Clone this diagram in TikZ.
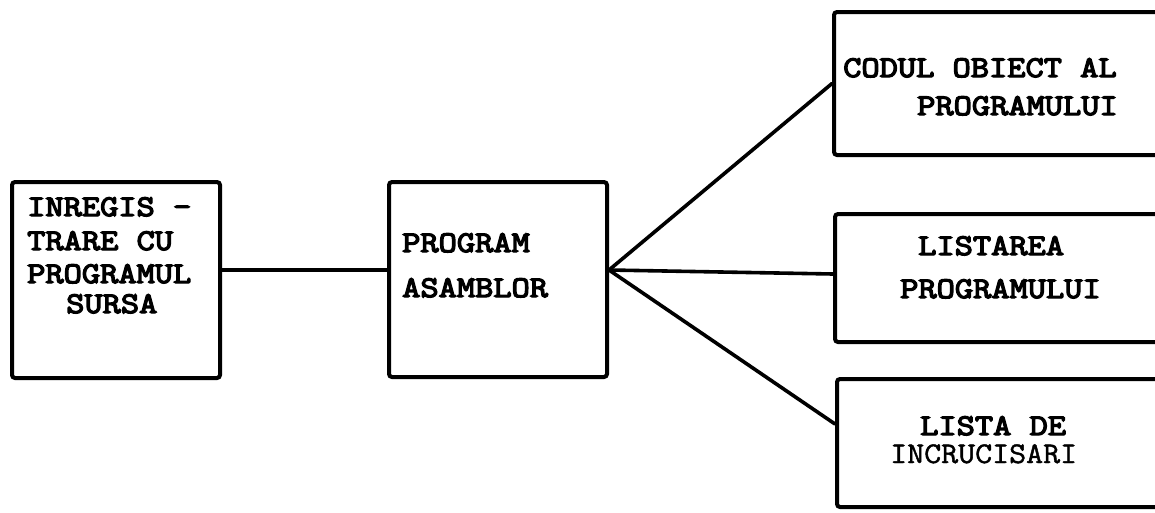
\documentclass[tikz,border=0pt]{standalone}
\usepackage{fontspec}
% heavy typewriter face and a plain one
\newfontfamily\typeheavy[FakeBold=4.5,FakeStretch=1.18]{Latin Modern Mono}
\newfontfamily\typeplain[FakeBold=1.5,FakeStretch=1.1]{Latin Modern Mono}
\begin{document}
\begin{tikzpicture}[x=1pt,y=-1pt,
  box/.style={draw,line width=4pt,rounded corners=3pt,inner sep=0pt,anchor=north west},
  link/.style={line width=3.6pt,line cap=round},
  lbl/.style={anchor=base west,inner sep=0pt,font=\fontsize{30}{30}\typeheavy},
  lbllight/.style={anchor=base west,inner sep=0pt,font=\fontsize{30}{30}\typeplain}]
\useasboundingbox (0,0) rectangle (1155,512);
\clip (0,0) rectangle (1155,512);

% boxes
\node[box,minimum width=208pt,minimum height=196pt] (src)  at (10,180) {};
\node[box,minimum width=218pt,minimum height=195pt] (asm)  at (387,180) {};
\node[box,minimum width=343pt,minimum height=143pt] (obj)  at (832,10) {};
\node[box,minimum width=342pt,minimum height=128pt] (lst)  at (833,212) {};
\node[box,minimum width=340pt,minimum height=128pt] (xref) at (835,377) {};

% labels
\node[lbl] (srcA) at (27,216) {INREGIS -};
\node[lbl] (srcB) at (27,250) {TRARE CU};
\node[lbl] (srcC) at (27,283) {PROGRAMUL};
\node[lbl] (srcD) at (66,313) {SURSA};

\node[lbl] (asmA) at (402,252) {PROGRAM};
\node[lbl] (asmB) at (402,297) {ASAMBLOR};

\node[lbl] (objA) at (843,77) {CODUL OBIECT AL};
\node[lbl] (objB) at (917,115) {PROGRAMULUI};

\node[lbl] (lstA) at (918,255) {LISTAREA};
\node[lbl] (lstB) at (900,298) {PROGRAMULUI};

\node[lbl] (xrefA) at (920,435) {LISTA DE};
\node[lbllight] (xrefB) at (890,463) {INCRUCISARI};

% connectors
\coordinate (hub) at ([yshift=9.5pt]asm.east);
\draw[link] ([yshift=10pt]src.east) -- ([yshift=9.5pt]asm.west);
\draw[link] (hub) -- (obj.west);
\draw[link] (hub) -- ([yshift=4pt]lst.west);
\draw[link] (hub) -- ([yshift=19pt]xref.west);
\end{tikzpicture}
\end{document}
